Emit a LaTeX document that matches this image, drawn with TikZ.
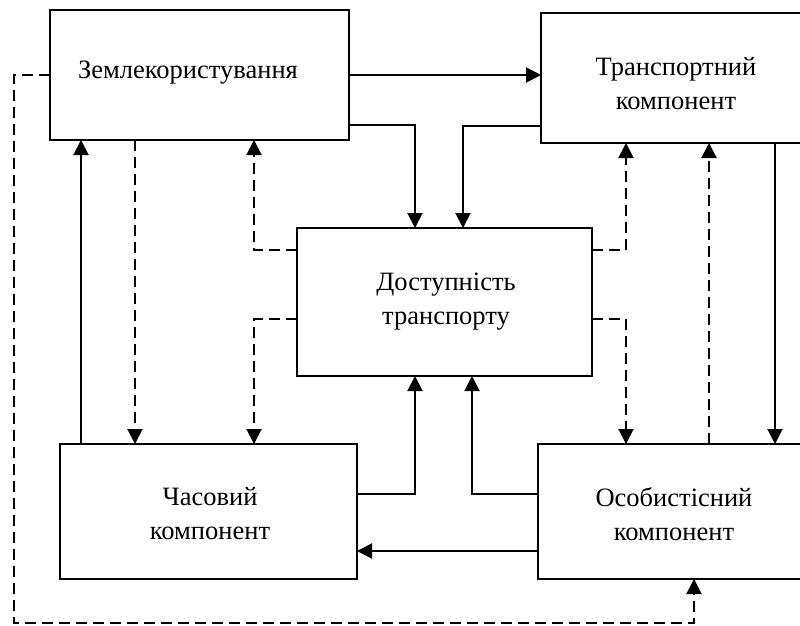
\documentclass[tikz,border=0pt]{standalone}
\usepackage{fontspec}
\setmainfont{Liberation Serif}
\usetikzlibrary{arrows.meta}
\begin{document}
\begin{tikzpicture}[x=1pt,y=-1pt,
  box/.style={draw,line width=2pt,rectangle,inner sep=0pt,outer sep=0pt},
  txt/.style={align=center,font=\fontsize{26.5}{34}\selectfont,inner sep=0pt},
  arr/.style={line width=2pt,-{Triangle[length=15pt,width=15pt]}},
  darr/.style={arr,dash pattern=on 11pt off 6pt}]
\useasboundingbox (0,0) rectangle (800,626);
\clip (0,0) rectangle (800,626);
\fill[white] (0,0) rectangle (800,626);
\node[box,minimum width=299pt,minimum height=130pt] (zk) at (199.5,75) {};
\node[box,minimum width=269pt,minimum height=130pt] (tr) at (675.5,78) {};
\node[box,minimum width=295pt,minimum height=148pt] (ds) at (444.5,302) {};
\node[box,minimum width=297pt,minimum height=135pt] (ch) at (208.5,511.5) {};
\node[box,minimum width=272pt,minimum height=135pt] (os) at (674,511.5) {};
\node[txt,anchor=base] (zkt) at (188,78) {Землекористування};
\node[txt] (trt) at (676,84) {Транспортний\\компонент};
\node[txt] (dst) at (446,302) {Доступність\\транспорту};
\node[txt] (cht) at (210,514) {Часовий\\компонент};
\node[txt] (ost) at (674,514) {Особистісний\\компонент};
% solid connectors
\draw[arr] (zk.east) -- (zk.east -| tr.west);
\draw[arr] (zk.east |- 0,125) -| (ds.north -| 415,0);
\draw[arr] (tr.west |- 0,126) -| (ds.north -| 463,0);
\draw[arr] (ch.north -| 81,0) -- (zk.south -| 81,0);
\draw[arr] (tr.south -| 775,0) -- (os.north -| 775,0);
\draw[arr] (ch.east |- 0,494) -| (ds.south -| 415,0);
\draw[arr] (os.west |- 0,494) -| (ds.south -| 472,0);
\draw[arr] (os.west |- 0,551) -- (ch.east |- 0,551);
% dashed connectors
\draw[darr] (zk.south -| 135,0) -- (ch.north -| 135,0);
\draw[darr] (ds.west |- 0,250) -| (zk.south -| 254,0);
\draw[darr] (ds.west |- 0,319) -| (ch.north -| 254,0);
\draw[darr] (ds.east |- 0,250) -| (tr.south -| 626,0);
\draw[darr] (os.north -| 709,0) -- (tr.south -| 709,0);
\draw[darr] (ds.east |- 0,319) -| (os.north -| 626,0);
\coordinate (lc) at (14,623);
\draw[darr] (zk.west) -| (lc) -| (os.south -| 694,0);
\end{tikzpicture}
\end{document}
